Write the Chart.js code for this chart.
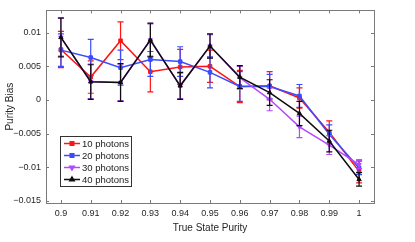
<!DOCTYPE html>
<html>
<head>
<meta charset="utf-8">
<script src="https://cdn.jsdelivr.net/npm/chart.js@4"></script>
<style>
  html, body { margin: 0; padding: 0; background: #fff; }
  #chart { display: block; }
</style>
</head>
<body>
<canvas id="chart" width="415" height="242"></canvas>
<script>
// purity values on the x axis
const purity = [0.9, 0.91, 0.92, 0.93, 0.94, 0.95, 0.96, 0.97, 0.98, 0.99, 1];

const bias10 = [0.0075, 0.0034, 0.0088, 0.0042, 0.0049, 0.0050, 0.0020, 0.0021, 0.0003, -0.0048, -0.0106];
const err10  = [0.0027, 0.0024, 0.0028, 0.0030, 0.0026, 0.0024, 0.0024, 0.0021, 0.0015, 0.0017, 0.0017];
const bias20 = [0.0074, 0.0063, 0.0048, 0.0060, 0.0057, 0.0041, 0.0020, 0.0020, 0.0006, -0.0051, -0.0101];
const err20  = [0.0024, 0.0027, 0.0026, 0.0025, 0.0022, 0.0023, 0.0022, 0.0018, 0.0017, 0.0014, 0.0010];
// 30 photons sits mostly under the 40 photons curve
const bias30 = [0.0093, 0.0027, 0.0026, 0.0089, 0.0021, 0.0080, 0.0033, 0.0001, -0.0040, -0.0067, -0.0096];
const err30  = [0.0028, 0.0025, 0.0027, 0.0024, 0.0019, 0.0017, 0.0017, 0.0017, 0.0016, 0.0014, 0.0006];
const bias40 = [0.0093, 0.0027, 0.0026, 0.0089, 0.0021, 0.0080, 0.0034, 0.0011, -0.0020, -0.0061, -0.0118];
const err40  = [0.0029, 0.0026, 0.0028, 0.0025, 0.0020, 0.0018, 0.0017, 0.0019, 0.0018, 0.0016, 0.0010];

const seriesNames = ["10 photons", "20 photons", "30 photons", "40 photons"];
const xTickVals = [0.9, 0.91, 0.92, 0.93, 0.94, 0.95, 0.96, 0.97, 0.98, 0.99, 1];
const yTickVals = [-0.015, -0.01, -0.005, 0, 0.005, 0.01];

const colors = ["#ff1414", "#3a4cff", "#b447ff", "#0d0d0d"];
const markers = [
  { style: "rect", rot: 0 },
  { style: "rect", rot: 0 },
  { style: "triangle", rot: 180 },
  { style: "triangle", rot: 0 }
];
const allBias = [bias10, bias20, bias30, bias40];
const allErr = [err10, err20, err30, err40];
const FONT = "'Liberation Sans', Arial, Helvetica, sans-serif";

const datasets = allBias.map((b, i) => ({
  label: seriesNames[i],
  data: purity.map((x, j) => ({ x: x, y: b[j] })),
  errors: allErr[i],
  borderColor: colors[i],
  backgroundColor: colors[i],
  borderWidth: 1.5,
  pointStyle: markers[i].style,
  rotation: markers[i].rot,
  pointRadius: 2.5,
  pointBorderWidth: 1,
  tension: 0,
  order: 3 - i // black on top
}));

// error bars, inward ticks, box, axis titles and legend
const matlabLook = {
  id: "matlabLook",
  afterDatasetDraw(chart, args) {
    const ds = chart.data.datasets[args.index];
    const xs = chart.scales.x, ys = chart.scales.y;
    const ctx = chart.ctx;
    ctx.save();
    ctx.strokeStyle = ds.borderColor;
    ctx.lineWidth = 1.2;
    ds.data.forEach((p, j) => {
      const e = ds.errors[j];
      const px = xs.getPixelForValue(p.x);
      const top = ys.getPixelForValue(p.y + e);
      const bot = ys.getPixelForValue(p.y - e);
      ctx.beginPath();
      ctx.moveTo(px, top); ctx.lineTo(px, bot);
      ctx.moveTo(px - 3, top); ctx.lineTo(px + 3, top);
      ctx.moveTo(px - 3, bot); ctx.lineTo(px + 3, bot);
      ctx.stroke();
    });
    ctx.restore();
  },
  afterDraw(chart) {
    const ctx = chart.ctx;
    const a = chart.chartArea;
    const xs = chart.scales.x, ys = chart.scales.y;
    ctx.save();
    ctx.strokeStyle = "#7a7a7a";
    ctx.lineWidth = 1;
    ctx.strokeRect(Math.round(a.left) + 0.5, Math.round(a.top) + 0.5,
      Math.round(a.right - a.left), Math.round(a.bottom - a.top));
    ctx.beginPath();
    xTickVals.forEach(v => {
      const px = Math.round(xs.getPixelForValue(v)) + 0.5;
      ctx.moveTo(px, a.bottom); ctx.lineTo(px, a.bottom - 3);
      ctx.moveTo(px, a.top); ctx.lineTo(px, a.top + 3);
    });
    yTickVals.forEach(v => {
      const py = Math.round(ys.getPixelForValue(v)) + 0.5;
      ctx.moveTo(a.left, py); ctx.lineTo(a.left + 3, py);
      ctx.moveTo(a.right, py); ctx.lineTo(a.right - 3, py);
    });
    ctx.stroke();

    // axis titles
    ctx.fillStyle = "#262626";
    ctx.font = "10px " + FONT;
    ctx.textAlign = "center";
    ctx.textBaseline = "middle";
    ctx.fillText("True State Purity", (a.left + a.right) / 2, 228);
    ctx.save();
    ctx.translate(10, (a.top + a.bottom) / 2);
    ctx.rotate(-Math.PI / 2);
    ctx.fillText("Purity Bias", 0, 0);
    ctx.restore();

    // legend
    const lx = 60, ly = 136, lw = 71, lh = 50;
    ctx.fillStyle = "#fff";
    ctx.fillRect(lx, ly, lw, lh);
    ctx.strokeStyle = "#333";
    ctx.strokeRect(lx + 0.5, ly + 0.5, lw, lh);
    ctx.font = "9.5px " + FONT;
    ctx.textAlign = "left";
    seriesNames.forEach((name, i) => {
      const y = ly + 7.5 + i * 12;
      ctx.strokeStyle = colors[i];
      ctx.lineWidth = 1.5;
      ctx.beginPath();
      ctx.moveTo(lx + 4, y); ctx.lineTo(lx + 20, y);
      ctx.stroke();
      Chart.helpers.drawPoint(ctx, { pointStyle: markers[i].style, rotation: markers[i].rot, radius: 2.5, borderWidth: 1 }, lx + 12, y);
      ctx.fillStyle = colors[i];
      ctx.fill();
      ctx.fillStyle = "#1a1a1a";
      ctx.fillText(name, lx + 22, y + 0.5);
    });
    ctx.restore();
  }
};

new Chart(document.getElementById("chart"), {
  type: "line",
  data: { datasets: datasets },
  options: {
    responsive: false,
    animation: false,
    devicePixelRatio: 1,
    layout: { padding: { top: 2, right: 41, left: 0, bottom: 0 } },
    plugins: { legend: { display: false }, tooltip: { enabled: false } },
    scales: {
      x: {
        type: "linear",
        min: 0.895,
        max: 1.005,
        afterBuildTicks: s => { s.ticks = xTickVals.map(v => ({ value: v })); },
        afterFit: s => { s.height = 39; },
        grid: { display: false, drawTicks: false },
        border: { display: false },
        ticks: {
          padding: 5,
          color: "#262626",
          font: { size: 9, family: FONT },
          maxRotation: 0,
          callback: v => Number(v.toFixed(2)).toString()
        }
      },
      y: {
        min: -0.0153,
        max: 0.0133,
        afterBuildTicks: s => { s.ticks = yTickVals.map(v => ({ value: v })); },
        afterFit: s => { s.width = 46; },
        grid: { display: false, drawTicks: false },
        border: { display: false },
        ticks: {
          padding: 5,
          color: "#262626",
          font: { size: 9, family: FONT },
          callback: v => v === 0 ? "0" : (v < 0 ? "\u2212" : "") + Number(Math.abs(v).toFixed(3)).toString()
        }
      }
    }
  },
  plugins: [matlabLook]
});
</script>
</body>
</html>
